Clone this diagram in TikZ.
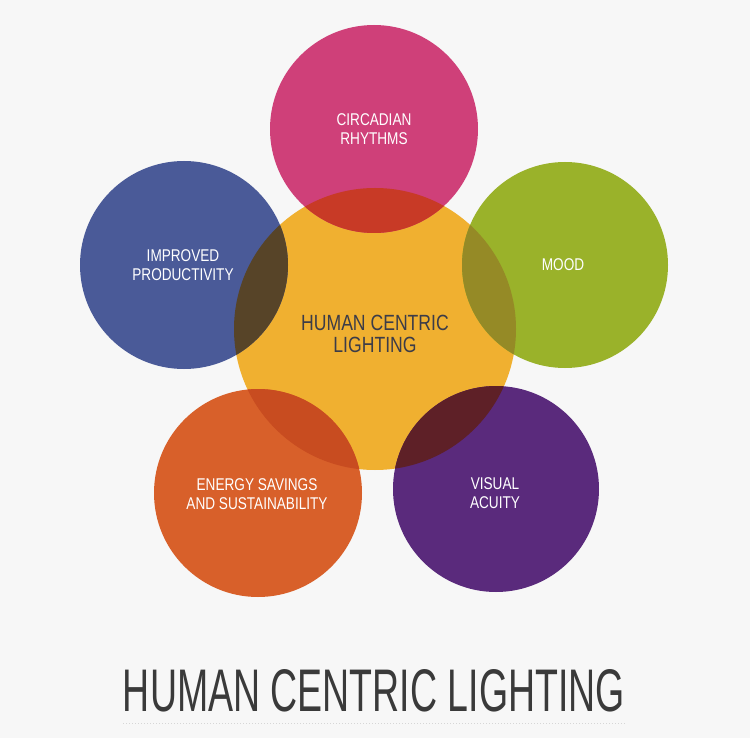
\documentclass[tikz,border=0pt]{standalone}
\usepackage{fontspec}
\setmainfont{Liberation Sans}[FakeStretch=0.8]
\usetikzlibrary{positioning}
\definecolor{bgc}{HTML}{F7F7F7}
\definecolor{yelc}{HTML}{F0B030}
\definecolor{pinkc}{HTML}{CF4079}
\definecolor{bluec}{HTML}{4A5A98}
\definecolor{greenc}{HTML}{9AB22A}
\definecolor{orangec}{HTML}{D8602A}
\definecolor{purplec}{HTML}{5A2A7C}
\definecolor{ovT}{HTML}{C83A26}
\definecolor{ovL}{HTML}{574428}
\definecolor{ovR}{HTML}{958A26}
\definecolor{ovBL}{HTML}{C84C20}
\definecolor{ovBR}{HTML}{5E2027}
\definecolor{darktext}{HTML}{3C3C48}
\definecolor{titlec}{HTML}{3A3A3A}
\definecolor{dotc}{HTML}{D6D6D6}
\tikzset{
  lbl/.style={text=white, align=center, font=\fontsize{17}{18.5}\selectfont, inner sep=0pt},
  clbl/.style={text=darktext, align=center, font=\fontsize{22}{22}\selectfont, inner sep=0pt},
}
\begin{document}
\begin{tikzpicture}[x=1pt,y=-1pt]
\fill[bgc] (0,0) rectangle (750,738);
\useasboundingbox (0,0) rectangle (750,738);
\coordinate (cC) at (375,329);
\coordinate (cT) at (374,129);
\coordinate (cL) at (184,265);
\coordinate (cR) at (565,265);
\coordinate (cBL) at (258,493);
\coordinate (cBR) at (496,489);
\fill[yelc] (cC) circle[radius=141];
\fill[pinkc] (cT) circle[radius=104];
\fill[bluec] (cL) circle[radius=104];
\fill[greenc] (cR) circle[radius=103];
\fill[orangec] (cBL) circle[radius=104];
\fill[purplec] (cBR) circle[radius=103];
\begin{scope}
  \clip (cC) circle[radius=141];
  \fill[ovT] (cT) circle[radius=104];
  \fill[ovL] (cL) circle[radius=104];
  \fill[ovR] (cR) circle[radius=103];
  \fill[ovBL] (cBL) circle[radius=104];
  \fill[ovBR] (cBR) circle[radius=103];
\end{scope}
\node[clbl] (center) at (375,334) {HUMAN CENTRIC\\LIGHTING};
\node[lbl] (circ) at (374,129) {CIRCADIAN\\RHYTHMS};
\node[lbl] (prod) at (183,265) {IMPROVED\\PRODUCTIVITY};
\node[lbl] (mood) at (563,265) {MOOD};
\node[lbl] (energy) at (257,494) {ENERGY SAVINGS\\AND SUSTAINABILITY};
\node[lbl] (visual) at (495,493) {VISUAL\\ACUITY};
\node[text=titlec, inner sep=0pt, anchor=base] (title) at (374,711) {\resizebox{502pt}{42pt}{HUMAN CENTRIC LIGHTING}};
\coordinate (dl) at (123,723);
\coordinate (dr) at (625,723);
\draw[dotc, line width=1pt, dash pattern=on 1pt off 2pt] (dl) -- (dr);
\end{tikzpicture}
\end{document}
